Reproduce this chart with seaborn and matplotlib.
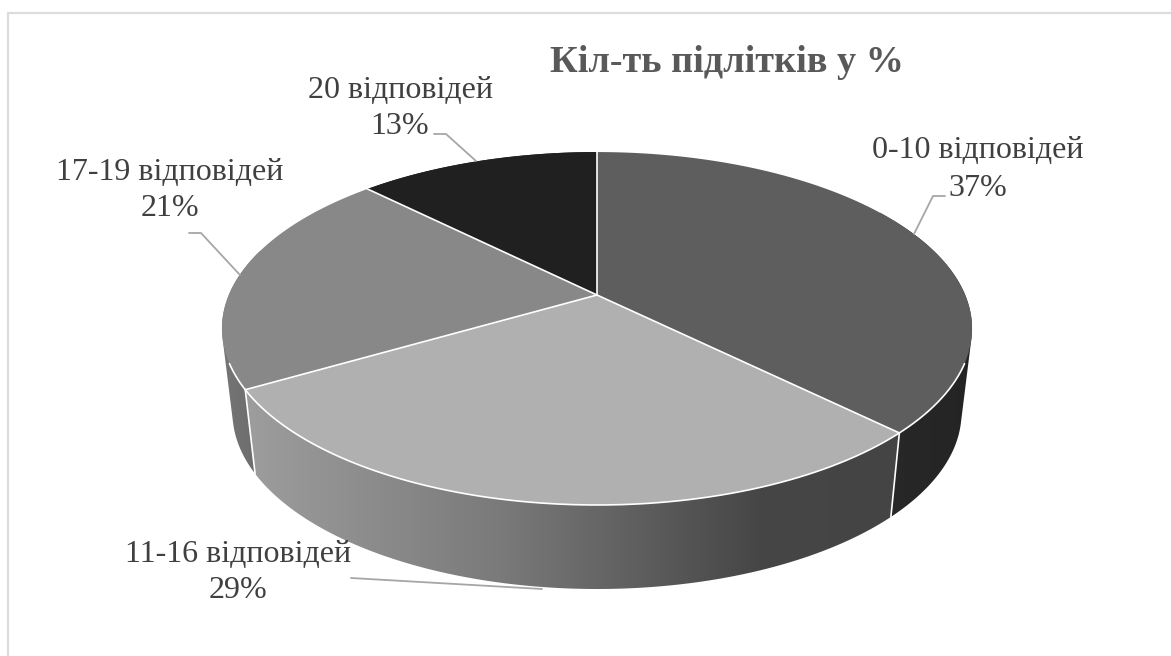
import matplotlib
matplotlib.use('Agg')
import matplotlib.pyplot as plt
from matplotlib.colors import LinearSegmentedColormap
from matplotlib.patches import Polygon
import numpy as np
import seaborn as sns

title = 'Кіл-ть підлітків у %'
categories = ['0-10 відповідей', '11-16 відповідей', '17-19 відповідей', '20 відповідей']
shares = [37.4, 29.2, 20.9, 12.5]
share_labels = ['37%', '29%', '21%', '13%']

sns.set_theme(style='white')
plt.rcParams['font.family'] = ['Liberation Serif', 'DejaVu Serif']

top_colors = sns.color_palette(['#5e5e5e', '#b0b0b0', '#888888', '#202020'])
text_color = '#404040'
title_color = '#595959'
leader_color = '#a6a6a6'

# pie geometry in pixels, the circle is put through a perspective map
cx, cy = 597, 295
rx, ry = 368.2, 170.1
persp = 0.19
depth = 84
shrink = 0.972


def top_pt(deg):
    a = np.radians(deg)
    u, v = np.sin(a), np.cos(a)
    w = 1 + persp * v
    return cx + rx * u / w, cy - ry * v / w


def bottom_pt(deg):
    x, y = top_pt(deg)
    return cx + (x - cx) * shrink, y + depth


def arc(fn, a0, a1):
    t = np.linspace(a0, a1, 200)
    xs, ys = fn(t)
    return np.column_stack([xs, ys])


# the wall of a slice is the hull of its upper and lower arc,
# that also gives the straight silhouette at the far left and right
def hull(points):
    pts = sorted(map(tuple, points))

    def half(seq):
        out = []
        for p in seq:
            while len(out) > 1:
                ax_, ay_ = out[-2]
                bx_, by_ = out[-1]
                if (bx_ - ax_) * (p[1] - ay_) - (by_ - ay_) * (p[0] - ax_) > 0:
                    break
                out.pop()
            out.append(p)
        return out[:-1]

    return np.array(half(pts) + half(pts[::-1]))


fig, ax = plt.subplots(figsize=(11.71, 6.56), dpi=100)
ax.set_position([0, 0, 1, 1])
ax.set_xlim(0, 1171)
ax.set_ylim(656, 0)
ax.axis('off')

# only the top and left of the chart frame show up
ax.plot([8, 8, 1171], [656, 13, 13], color='#dcdcdc', lw=1.6, zorder=1)

edges = np.concatenate([[0], np.cumsum(shares)]) / np.sum(shares) * 360

# side walls: x position and grey level of the shading
side_shades = [
    ([880, 980], ['#282828', '#242424']),
    ([240, 500, 600, 760, 900], ['#9e9e9e', '#7a7a7a', '#666666', '#464646', '#444444']),
    ([215, 260], ['#777777', '#6c6c6c']),
    ([350, 600], ['#202020', '#202020']),
]

# the front slice goes last so it covers the hulls of its neighbours
for n, i in enumerate([3, 2, 0, 1]):
    a0, a1 = edges[i], edges[i + 1]
    poly = hull(np.vstack([arc(top_pt, a0, a1), arc(bottom_pt, a0, a1)]))
    xs, greys = side_shades[i]
    pos = (np.array(xs) - xs[0]) / (xs[-1] - xs[0])
    cmap = LinearSegmentedColormap.from_list('side', list(zip(pos, greys)))
    patch = Polygon(poly, closed=True, fc='none', ec='none', transform=ax.transData)
    ax.add_patch(patch)
    im = ax.imshow(np.linspace(0, 1, 256)[None, :], cmap=cmap, aspect='auto',
                   extent=[xs[0], xs[-1], 656, 0], zorder=2 + n * 0.01)
    im.set_clip_path(patch)

ax.set_xlim(0, 1171)
ax.set_ylim(656, 0)

# white seams between the side walls
for deg in [edges[1], edges[2]]:
    tx, ty = top_pt(deg)
    bx, by = bottom_pt(deg)
    ax.plot([tx, bx], [ty, by], color='white', lw=1.2, zorder=3)

# top faces
for i in range(len(shares)):
    pts = arc(top_pt, edges[i], edges[i + 1])
    poly = np.vstack([[cx, cy], pts])
    ax.add_patch(Polygon(poly, closed=True, fc=top_colors[i], ec='none', zorder=4))
    ax.plot(*poly[[1, 0]].T, color='white', lw=1.2, zorder=5)
# light rim along the visible front edge
ax.plot(*arc(top_pt, 112, 248).T, color='white', lw=1.2, zorder=5)

# labels, centred on the spots they have in the chart
label_pos = [(978, 151, 188), (238, 554, 591), (170, 172, 209), (400, 90, 127)]
for name, pct, (lx, ly0, ly1) in zip(categories, share_labels, label_pos):
    ax.text(lx, ly0, name, ha='center', va='center', fontsize=23, color=text_color, zorder=6)
    ax.text(lx, ly1, pct, ha='center', va='center', fontsize=23, color=text_color, zorder=6)

leaders = [
    ([945, 933, 914], [196, 196, 234]),
    ([351, 542], [578, 589]),
    ([189, 201, 240], [233, 233, 275]),
    ([434, 446, 476], [134, 134, 161]),
]
for lx, ly in leaders:
    ax.plot(lx, ly, color=leader_color, lw=1.3, zorder=6)

ax.text(727, 62, title, ha='center', va='center', fontsize=27.5, fontweight='bold',
        color=title_color, zorder=6)

fig.savefig('out.png', dpi=100, facecolor='white')
